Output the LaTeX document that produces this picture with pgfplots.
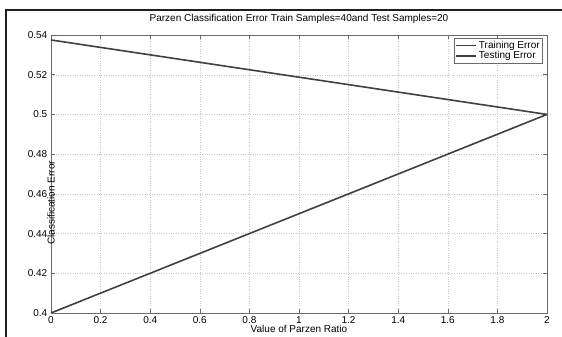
\documentclass[border=0pt]{standalone}
\usepackage{fontspec}
\setmainfont{Liberation Sans}
\usepackage{pgfplots}
\pgfplotsset{compat=1.18}
\definecolor{lncol}{HTML}{404040}
\definecolor{axcol}{HTML}{6A6A6A}
\begin{document}
\begin{tikzpicture}
\path[use as bounding box] (0pt,0pt) rectangle (562pt,337pt);
\draw[line width=2.6pt, black!88] (6pt,0pt) -- (6pt,327pt) -- (562pt,327pt);
\begin{axis}[
  at={(51pt,24pt)}, anchor=south west,
  scale only axis, width=496pt, height=278pt,
  xmin=0, xmax=2, ymin=0.4, ymax=0.54,
  xtick={0,0.2,0.4,0.6,0.8,1,1.2,1.4,1.6,1.8,2},
  xticklabels={0,0.2,0.4,0.6,0.8,1,1.2,1.4,1.6,1.8,2},
  ytick={0.4,0.42,0.44,0.46,0.48,0.5,0.52,0.54},
  yticklabels={0.4,0.42,0.44,0.46,0.48,0.5,0.52,0.54},
  font=\fontsize{10}{12}\selectfont,
  tick align=inside, major tick length=4pt,
  xtick pos=both, ytick pos=both,
  tick style={axcol, line width=0.5pt},
  axis line style={axcol, line width=0.9pt},
  grid=major,
  major grid style={dotted, black!22, line width=0.4pt},
  xticklabel style={anchor=base, inner sep=0pt, yshift=-10.4pt},
  yticklabel style={anchor=east, inner sep=0pt, xshift=-3.5pt},
  title={Parzen Classification Error Train Samples=40and Test Samples=20},
  title style={at={(0.5,1)}, anchor=base, inner sep=0pt, yshift=7pt},
  xlabel={Value of Parzen Ratio},
  xlabel style={at={(axis description cs:0.5,0)}, anchor=base, inner sep=0pt, yshift=-19.8pt},
  ylabel={Classification Error},
  ylabel style={at={(axis description cs:0,0.5)}, anchor=center, inner sep=0pt, xshift=-29pt},
  legend style={at={(1,1)}, anchor=north east, xshift=-4pt, yshift=-3pt,
    draw=axcol, line width=0.6pt, inner sep=1pt, row sep=-2.5pt,
    font=\fontsize{10}{12}\selectfont, cells={anchor=west}},
  legend image code/.code={\draw[#1] (0pt,0pt) -- (20pt,0pt);},
]
\addplot[lncol, line width=1.6pt] coordinates {(0,0.5375) (2,0.5)};
\addlegendentry{Training Error}
\addplot[lncol, line width=1.6pt] coordinates {(0,0.4) (2,0.5)};
\addlegendentry{Testing Error}
\end{axis}
\end{tikzpicture}
\end{document}
